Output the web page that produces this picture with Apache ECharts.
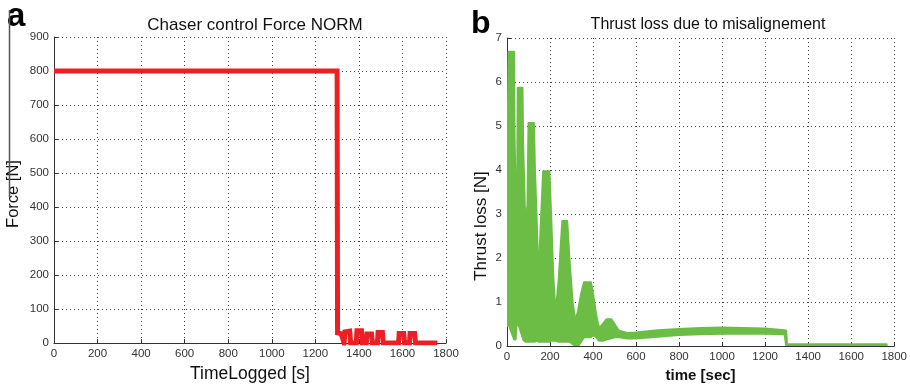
<!DOCTYPE html>
<html>
<head>
<meta charset="utf-8">
<script src="https://cdn.jsdelivr.net/npm/echarts@6/dist/echarts.min.js"></script>
<style>html,body{margin:0;padding:0;background:#fff;}#c{width:910px;height:388px;}</style>
</head>
<body>
<div id="c"></div>
<script>
// ---- Panel a: chaser control force norm ----
const forceTime = [0, 1300, 1302, 1318, 1325, 1332, 1336, 1358, 1362, 1388, 1391, 1412, 1416, 1434, 1437, 1458, 1462, 1485, 1488, 1508, 1512, 1582, 1585, 1606, 1610, 1632, 1635, 1656, 1660, 1760];
const forceValue = [800, 800, 30, 28, 15, 0, 33, 35, 0, 0, 36, 36, 0, 0, 27, 27, 0, 0, 31, 31, 0, 0, 28, 28, 0, 0, 28, 28, 0, 0];

// ---- Panel b: thrust loss envelope (upper / lower edge of the dense oscillation) ----
const thrustTime  = [0, 4, 7, 33, 35, 40, 46, 50, 72, 75, 85, 95, 100, 125, 130, 140, 146, 152, 168, 197, 205, 215, 226, 240, 257, 280, 290, 305, 318, 330, 345, 358, 390, 400, 415, 428, 445, 462, 485, 500, 520, 560, 600, 700, 800, 900, 1000, 1100, 1200, 1290, 1298, 1302, 1400, 1765];
const thrustUpper = [5.0, 5.2, 6.69, 6.69, 4.8, 3.5, 2.85, 5.87, 5.87, 4.6, 2.8, 3.2, 5.07, 5.07, 4.0, 2.6, 1.5, 2.2, 3.97, 3.97, 3.0, 1.6, 0.75, 1.5, 2.84, 2.84, 2.0, 1.0, 0.57, 0.8, 1.2, 1.45, 1.45, 1.2, 0.7, 0.4, 0.5, 0.61, 0.61, 0.5, 0.35, 0.3, 0.31, 0.36, 0.39, 0.41, 0.42, 0.41, 0.40, 0.36, 0.35, 0.04, 0.04, 0.04];
const thrustLower = [0.45, 0.5, 0.5, 0.15, 0.15, 0.15, 0.55, 0.55, 0.2, 0.15, 0.1, 0.1, 0.1, 0.1, 0.1, 0.12, 0.1, 0.1, 0.1, 0.1, 0.12, 0.12, 0.12, 0.1, 0.1, 0.1, 0.1, 0.05, 0.0, 0.0, 0.1, 0.2, 0.2, 0.25, 0.2, 0.12, 0.12, 0.15, 0.18, 0.2, 0.2, 0.17, 0.17, 0.21, 0.25, 0.27, 0.28, 0.28, 0.28, 0.27, 0.0, 0.0, 0.0, 0.0];

const xTicks = [0, 200, 400, 600, 800, 1000, 1200, 1400, 1600, 1800];

const FONT = 'Liberation Sans, Arial, sans-serif';
const RED = '#ec2024';
const GREEN = '#6cbd45';

const chart = echarts.init(document.getElementById('c'), null, {renderer: 'canvas'});

function xAxisCfg(gridIndex, name, bold, size) {
  return {
    type: 'value', gridIndex, min: xTicks[0], max: xTicks[xTicks.length - 1], interval: xTicks[1] - xTicks[0],
    name, nameLocation: 'middle', nameGap: 18,
    nameTextStyle: {fontFamily: FONT, fontSize: size, color: '#111', fontWeight: bold ? 'bold' : 'normal'},
    axisLine: {show: true, onZero: false, lineStyle: {color: '#333', width: 1}},
    axisTick: {show: true, inside: true, length: 4, lineStyle: {color: '#333'}},
    axisLabel: {fontFamily: FONT, fontSize: 11.5, color: '#333', margin: 5, formatter: v => String(v)},
    splitLine: {show: true, lineStyle: {color: '#444', type: [1, 3], width: 1}}
  };
}
function yAxisCfg(gridIndex, max, interval) {
  return {
    type: 'value', gridIndex, min: 0, max, interval,
    axisLine: {show: true, onZero: false, lineStyle: {color: '#333', width: 1}},
    axisTick: {show: true, inside: true, length: 4, lineStyle: {color: '#333'}},
    axisLabel: {fontFamily: FONT, fontSize: 11.5, color: '#333', margin: 5, formatter: v => String(v)},
    splitLine: {show: true, lineStyle: {color: '#444', type: [1, 3], width: 1}}
  };
}

const option = {
  backgroundColor: '#fff',
  animation: false,
  title: [
    {text: 'Chaser control Force NORM', left: 250, top: 12, textAlign: 'center',
     textStyle: {fontFamily: FONT, fontSize: 17, fontWeight: 'normal', color: '#111'}},
    {text: 'Thrust loss due to misalignement', left: 703, top: 12, textAlign: 'center',
     textStyle: {fontFamily: FONT, fontSize: 16, fontWeight: 'normal', color: '#111'}}
  ],
  grid: [
    {left: 54, right: 464, top: 37, bottom: 41},
    {left: 507, right: 11, top: 38, bottom: 41}
  ],
  xAxis: [xAxisCfg(0, 'TimeLogged [s]', false, 17.5), xAxisCfg(1, 'time [sec]', true, 15)],
  yAxis: [yAxisCfg(0, 900, 100), yAxisCfg(1, 7, 1)],
  graphic: [
    {type: 'text', left: 7, top: 0, style: {text: 'a', fontFamily: FONT, fontSize: 33, fontWeight: 'bold', fill: '#000'}},
    {type: 'text', left: 471, top: 8, style: {text: 'b', fontFamily: FONT, fontSize: 32, fontWeight: 'bold', fill: '#000'}},
    {type: 'text', x: 22, y: 194, rotation: Math.PI / 2,
     style: {text: 'Force [N]', fontFamily: FONT, fontSize: 16.5, fill: '#111', align: 'center', verticalAlign: 'bottom'}},
    {type: 'text', x: 490, y: 226, rotation: Math.PI / 2,
     style: {text: 'Thrust loss [N]', fontFamily: FONT, fontSize: 17, fill: '#111', align: 'center', verticalAlign: 'bottom'}},
    {type: 'line', shape: {x1: 9.5, y1: 10, x2: 9.5, y2: 197}, style: {stroke: '#555', lineWidth: 1.5}}
  ],
  series: [
    {
      type: 'line', xAxisIndex: 0, yAxisIndex: 0, showSymbol: false,
      data: forceTime.map((t, i) => [t, forceValue[i]]),
      lineStyle: {color: RED, width: 5, join: 'miter'}, z: 5
    },
    {
      type: 'custom', xAxisIndex: 1, yAxisIndex: 1, clip: true, z: 5,
      data: [[0, 0]],
      renderItem: function (params, api) {
        const pts = [];
        for (let i = 0; i < thrustTime.length; i++) pts.push(api.coord([thrustTime[i], thrustUpper[i]]));
        for (let i = thrustTime.length - 1; i >= 0; i--) pts.push(api.coord([thrustTime[i], thrustLower[i]]));
        return {
          type: 'polygon',
          shape: {points: pts},
          style: {fill: GREEN, stroke: GREEN, lineWidth: 2, lineJoin: 'round'}
        };
      }
    }
  ]
};
chart.setOption(option);
</script>
</body>
</html>
